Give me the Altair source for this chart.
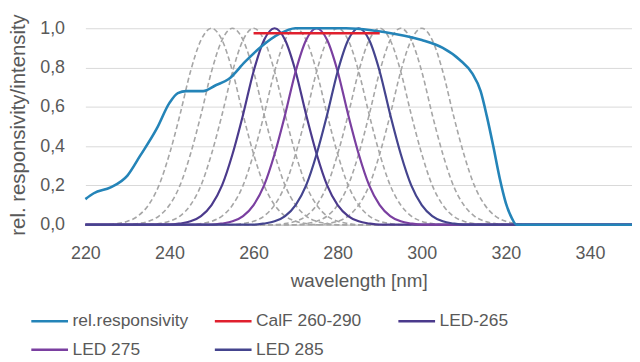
import altair as alt
import pandas as pd

# ---- data ----
RESP_WL = [220, 222, 226, 230, 233, 237, 240, 242, 244, 248, 251, 254, 258, 262, 266,
           270, 276, 282, 288, 294, 300, 305, 309, 312, 314, 315.5, 317, 318.5, 320,
           321.5, 322.5, 335, 350]
RESP_VAL = [0.13, 0.16, 0.19, 0.25, 0.35, 0.49, 0.62, 0.67, 0.68, 0.68, 0.71, 0.74, 0.83, 0.91, 0.97,
            1.0, 1.0, 1.0, 0.99, 0.97, 0.94, 0.90, 0.84, 0.77, 0.68, 0.55, 0.40, 0.24, 0.11,
            0.03, 0.0, 0.0, 0.0]

CALF_WL = [260, 290]
CALF_VAL = [0.975, 0.975]

LED_SOLID_NAMES = ["LED-265", "LED 275", "LED 285"]
LED_SOLID_PEAKS = [265, 275, 285]
LED_DASHED_PEAKS = [250, 255, 260, 270, 280, 290, 295, 300]

# LED emission profile (offset from peak in nm, relative intensity)
PROFILE_OFFSET = [-25, -22.5, -20, -17.5, -15, -12.5, -10, -7.5, -5, -2.5, 0,
                  2.5, 5, 7.5, 10, 12.5, 15, 17.5, 20, 22.5, 25]
PROFILE_VAL = [0.0, 0.006, 0.017, 0.044, 0.10, 0.20, 0.36, 0.56, 0.78, 0.94, 1.0,
               0.94, 0.78, 0.56, 0.36, 0.20, 0.10, 0.044, 0.017, 0.006, 0.0]

X_MIN, X_MAX = 220, 350
X_TICKS = [220, 240, 260, 280, 300, 320, 340]
Y_TICKS = [0, 0.2, 0.4, 0.6, 0.8, 1.0]

SERIES = ["rel.responsivity", "CalF 260-290", "LED-265", "LED 275", "LED 285"]
COLORS = ["#2484B8", "#E0202E", "#4B3A8C", "#7A3FA0", "#44448E"]

FONT = "Liberation Sans"
TXT = "#595959"


def led_rows(peak, name):
    rows = [{"wl": X_MIN, "val": 0.0, "series": name}]
    for o, v in zip(PROFILE_OFFSET, PROFILE_VAL):
        w = peak + o
        if X_MIN < w < X_MAX:
            rows.append({"wl": w, "val": v, "series": name})
    rows.append({"wl": X_MAX, "val": 0.0, "series": name})
    return rows


dashed_rows = []
for p in LED_DASHED_PEAKS:
    dashed_rows += led_rows(p, "dash %d" % p)
df_dashed = pd.DataFrame(dashed_rows)

solid_rows = []
for p, n in zip(LED_SOLID_PEAKS, LED_SOLID_NAMES):
    solid_rows += led_rows(p, n)
df_solid = pd.DataFrame(solid_rows)

df_resp = pd.DataFrame({"wl": RESP_WL, "val": RESP_VAL, "series": "rel.responsivity"})
df_calf = pd.DataFrame({"wl": CALF_WL, "val": CALF_VAL, "series": "CalF 260-290"})

x_enc = alt.X(
    "wl:Q",
    scale=alt.Scale(domain=[X_MIN, X_MAX], nice=False, zero=False),
    axis=alt.Axis(
        values=X_TICKS, title="wavelength [nm]", grid=False, ticks=False,
        domainColor="#BFBFBF", domainWidth=1,
        labelFont=FONT, labelFontSize=18, labelColor=TXT, labelPadding=20,
        labelFlush=False,
        titleFont=FONT, titleFontSize=19, titleColor=TXT, titleFontWeight="normal",
        titleY=56, titleBaseline="middle",
    ),
)
y_enc = alt.Y(
    "val:Q",
    scale=alt.Scale(domain=[0, 1], nice=False),
    axis=alt.Axis(
        values=Y_TICKS, labelExpr="replace(format(datum.value, '.1f'), '.', ',')",
        grid=True, gridColor="#D9D9D9", gridWidth=1, ticks=False, domain=False,
        labelFont=FONT, labelFontSize=18, labelColor=TXT, labelPadding=21,
        title="rel. responsivity/intensity",
        titleFont=FONT, titleFontSize=20.5, titleColor=TXT, titleFontWeight="normal",
        titleX=-67, titleY=97, titleAngle=270, titleAlign="center", titleBaseline="middle",
    ),
)
color_enc = alt.Color(
    "series:N",
    scale=alt.Scale(domain=SERIES, range=COLORS),
    legend=alt.Legend(
        title=None, orient="none", legendX=-56, legendY=275, direction="horizontal",
        columns=3, gridAlign="all", symbolType="stroke", symbolSize=1369,
        symbolStrokeWidth=2.5, labelFont=FONT, labelFontSize=17.5, labelColor=TXT,
        labelOffset=3, columnPadding=21, rowPadding=-10,
    ),
)

dashed = alt.Chart(df_dashed).mark_line(
    color="#A6A6A6", strokeDash=[5, 3], strokeWidth=1.6, interpolate="monotone"
).encode(x=x_enc, y=y_enc, detail="series:N")

solid = alt.Chart(df_solid).mark_line(strokeWidth=2.2, interpolate="monotone").encode(
    x=x_enc, y=y_enc, color=color_enc
)
resp = alt.Chart(df_resp).mark_line(strokeWidth=2.6, interpolate="monotone").encode(
    x=x_enc, y=y_enc, color=color_enc
)
calf = alt.Chart(df_calf).mark_line(strokeWidth=2.6).encode(
    x=x_enc, y=y_enc, color=color_enc
)

chart = alt.layer(dashed, solid, resp, calf).properties(
    width=551, height=198,
    autosize=alt.AutoSizeParams(type="none"),
    padding={"left": 78, "top": 19, "right": 0, "bottom": 137},
    background="white",
).configure_view(strokeWidth=0)

chart.save("out.html", embed_options={"renderer": "svg", "actions": False})
